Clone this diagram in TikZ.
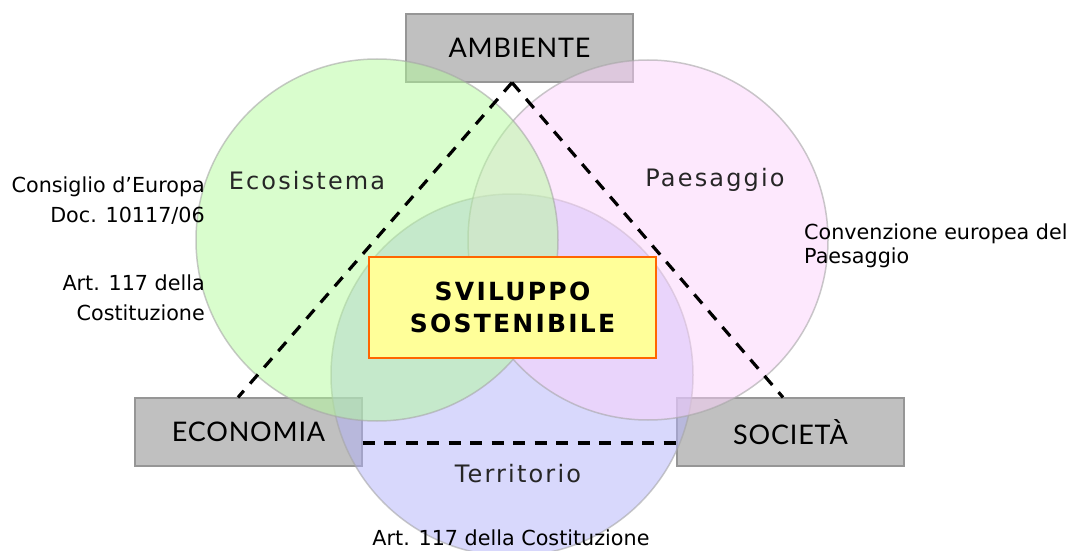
\documentclass[tikz,border=0pt]{standalone}
\usepackage{fontspec}
\setmainfont{DejaVu Sans}
\newfontfamily\boxfont[LetterSpace=3]{Lato}
\newfontfamily\titlefont[LetterSpace=9]{DejaVu Sans}
\newfontfamily\vennfont[LetterSpace=9]{DejaVu Sans}
\usetikzlibrary{positioning}

\definecolor{vgreen}{RGB}{179,251,155}
\definecolor{vpink}{RGB}{251,209,251}
\definecolor{vblue}{RGB}{177,177,249}
\definecolor{boxgray}{RGB}{192,192,192}
\definecolor{boxline}{RGB}{150,150,150}
\definecolor{titlefill}{RGB}{255,255,153}
\definecolor{titleline}{RGB}{255,102,0}

\tikzset{
  pillar/.style={draw=boxline, fill=boxgray, line width=1.2pt,
                 minimum width=227pt, minimum height=68pt, inner sep=0pt,
                 font=\boxfont\fontsize{27}{30}\selectfont},
  venn/.style={draw=black!35, draw opacity=0.6, fill opacity=0.5, line width=1.5pt},
  vennlabel/.style={text=black!85, font=\vennfont\fontsize{24}{26}\selectfont},
  link/.style={line width=3.2pt, dash pattern=on 12pt off 9.5pt},
  note/.style={inner sep=0pt, font=\fontsize{20.7}{30}\selectfont}
}

\begin{document}
\begin{tikzpicture}[x=1pt, y=-1pt]
  \useasboundingbox (0, 0) rectangle (1069, 551);

  % the three pillars
  \node[pillar] (ambiente) at (519.5,  48) {AMBIENTE};
  \node[pillar] (economia) at (248.5, 432) {ECONOMIA};
  \node[pillar] (societa)  at (790.5, 432) {SOCIETÀ};

  % circles
  \coordinate (territorio) at (512, 375);
  \coordinate (paesaggio)  at (648, 240);
  \coordinate (ecosistema) at (377, 240);
  \draw[venn, fill=vblue]  (territorio) circle [radius=181pt];
  \draw[venn, fill=vpink]  (paesaggio)  circle [radius=180pt];
  \draw[venn, fill=vgreen] (ecosistema) circle [radius=181pt];

  % triangle
  \coordinate (apex) at ([xshift=-7.5pt]ambiente.south);
  \draw[link] (apex) -- ([xshift=-10.5pt]economia.north);
  \draw[link] (apex) -- ([xshift=-7.5pt]societa.north);
  \draw[link] ([yshift=-11pt]economia.east)
           -- ([yshift=-11pt]societa.west);

  \node[draw=titleline, fill=titlefill, line width=2pt,
        minimum width=287pt, minimum height=101pt, align=center,
        font=\titlefont\bfseries\fontsize{25}{32}\selectfont]
        (sviluppo) at (512.5, 307.5) {SVILUPPO\\SOSTENIBILE};

  \node[vennlabel] (ecolabel) at (307, 181) {Ecosistema};
  \node[vennlabel] (paelabel) at (715, 180) {Paesaggio};
  \node[vennlabel] (terlabel) at (518, 474) {Territorio};

  % sources
  \node[note, align=right, anchor=east] (consiglio) at (205, 201)
        {Consiglio d’Europa\\Doc. 10117/06};
  \node[note, align=right, anchor=east] (articolo) at (205, 298)
        {Art. 117 della\\Costituzione};
  \node[note, align=left, anchor=west, font=\fontsize{20.7}{24}\selectfont]
        (convenzione) at (804, 246) {Convenzione europea del\\Paesaggio};
  \node[note] (costituzione) at (511, 538) {Art. 117 della Costituzione};
\end{tikzpicture}
\end{document}
